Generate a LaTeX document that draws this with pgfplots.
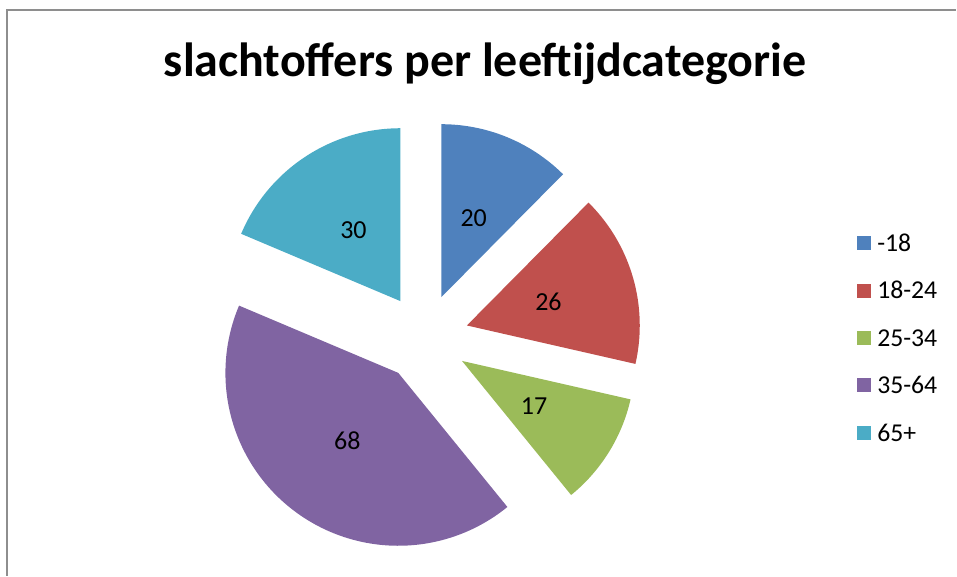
\documentclass[border=0pt]{standalone}
\usepackage{pgfplots}
\pgfplotsset{compat=1.18}
\usepackage{pgfplotstable}
\usepackage{fontspec}
\setmainfont{Carlito}

\definecolor{sliceA}{HTML}{4F81BD}
\definecolor{sliceB}{HTML}{C0504D}
\definecolor{sliceC}{HTML}{9BBB59}
\definecolor{sliceD}{HTML}{8064A2}
\definecolor{sliceE}{HTML}{4BACC6}
\definecolor{framegray}{HTML}{8E8E8E}

% victims per age group
\pgfplotstableread{
group value
-18   20
18-24 26
25-34 17
35-64 68
65+   30
}\piedata

\pgfplotstablegetelem{0}{value}\of\piedata \let\vA\pgfplotsretval
\pgfplotstablegetelem{1}{value}\of\piedata \let\vB\pgfplotsretval
\pgfplotstablegetelem{2}{value}\of\piedata \let\vC\pgfplotsretval
\pgfplotstablegetelem{3}{value}\of\piedata \let\vD\pgfplotsretval
\pgfplotstablegetelem{4}{value}\of\piedata \let\vE\pgfplotsretval

\pgfmathsetmacro\tot{\vA+\vB+\vC+\vD+\vE}
\pgfmathsetmacro\aA{90}
\pgfmathsetmacro\aB{\aA-360*(\vA/\tot)}
\pgfmathsetmacro\aC{\aB-360*(\vB/\tot)}
\pgfmathsetmacro\aD{\aC-360*(\vC/\tot)}
\pgfmathsetmacro\aE{\aD-360*(\vD/\tot)}
\pgfmathsetmacro\aF{\aE-360*(\vE/\tot)}

% pie geometry (axis units = pixels of the reference)
\def\cx{425}
\def\cy{238}
\def\off{44}
\def\R{173}
\def\lab{85}
\newcommand\datafont{\fontsize{19.5}{22}\selectfont}

% #1 start angle, #2 end angle (smaller), #3 colour, #4 value
\newcommand\slice[4]{%
  \pgfmathsetmacro\mid{(#1+#2)/2}%
  \pgfmathsetmacro\vx{\cx+\off*cos(\mid)}%
  \pgfmathsetmacro\vy{\cy+\off*sin(\mid)}%
  \pgfmathsetmacro\lx{\vx+\lab*cos(\mid)}%
  \pgfmathsetmacro\ly{\vy+\lab*sin(\mid)}%
  \edef\doslice{%
    \noexpand\addplot[fill=#3, draw=none, domain=#2:#1, samples=120]
      ({\vx+\R*cos(x)}, {\vy+\R*sin(x)}) -- (axis cs:\vx,\vy) -- cycle;
    \noexpand\node[font=\noexpand\datafont, inner sep=0pt] at (axis cs:\lx,\ly) {#4};}%
  \doslice}

\begin{document}
\begin{tikzpicture}
\begin{axis}[
    scale only axis,
    width=717.75pt, height=432pt,
    xmin=0, xmax=957, ymin=0, ymax=576,
    hide axis, clip=false,
    area legend,
    legend image code/.code={\fill[#1] (0pt,-5.25pt) rectangle (10.5pt,5.25pt);},
    legend style={
        at={(axis cs:857,341)}, anchor=north west,
        draw=none, fill=none, inner sep=0pt,
        font=\fontsize{19.3}{21}\selectfont,
        row sep=23.4pt, column sep=5pt,
        nodes={inner sep=0pt, text height=12.2pt, text depth=0pt},
        cells={anchor=west},
    },
]
\slice{\aA}{\aB}{sliceA}{\vA}
\slice{\aB}{\aC}{sliceB}{\vB}
\slice{\aC}{\aD}{sliceC}{\vC}
\slice{\aD}{\aE}{sliceD}{\vD}
\slice{\aE}{\aF}{sliceE}{\vE}
\legend{-18,18-24,25-34,35-64,65+}

\node[font=\bfseries\fontsize{36}{40}\selectfont, anchor=base]
    at (axis cs:485.5,499) {slachtoffers per leeftijdcategorie};
\draw[framegray, line width=1.1pt] (axis cs:7,0) -- (axis cs:7,566) -- (axis cs:957,566);
\path (axis cs:0,0) rectangle (axis cs:957,576);
\end{axis}
\end{tikzpicture}
\end{document}
